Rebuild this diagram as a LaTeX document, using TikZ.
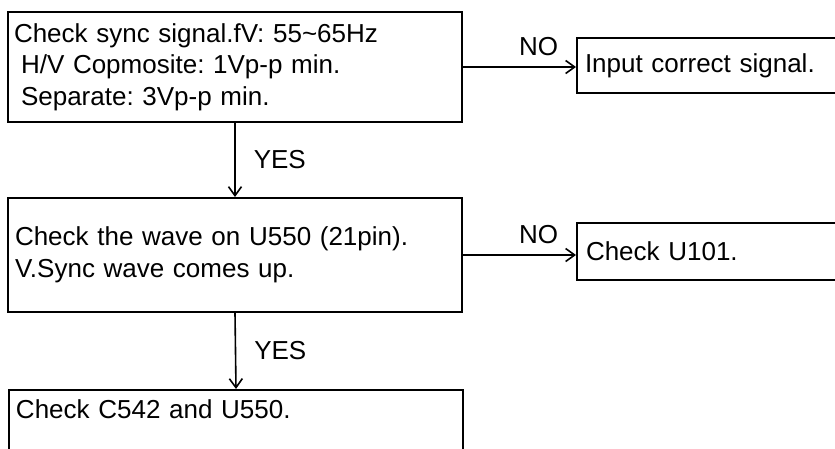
\documentclass[tikz,border=0pt]{standalone}
\usepackage{fontspec}
\setmainfont{Liberation Sans}
\frenchspacing
\usetikzlibrary{arrows.meta,positioning}

\begin{document}
\begin{tikzpicture}[x=1pt,y=-1pt,
  box/.style={draw,line width=2pt,rectangle,align=left,inner xsep=6pt,inner ysep=0pt,font=\fontsize{26}{31.5}\selectfont},
  flow/.style={-{Straight Barb[length=9pt,width=13pt,line width=1.6pt]},line width=1.6pt},
  lbl/.style={font=\fontsize{26}{31}\selectfont,inner sep=0pt}]
\clip (0,0) rectangle (835,448);
% left column
\node[box,text width=442pt,minimum height=110pt] (sync) at (235,67) {Check sync signal.fV: 55\textasciitilde65Hz\\\hspace*{7pt}H/V Copmosite: 1Vp-p min.\\\hspace*{7pt}Separate: 3Vp-p min.};
\node[box,text width=440pt,minimum height=114pt,inner xsep=7pt] (wave) at (235,255) {Check the wave on U550 (21pin).\\V.Sync wave comes up.};
\node[box,text width=440pt,inner xsep=7pt,inner ysep=9pt,text height=19pt,text depth=50pt,anchor=north west] (cap) at (8,389) {Check C542 and U550.};
% right column
\node[box,text width=267pt,inner xsep=8pt,minimum height=55pt] (input) at (718.5,65.5) {Input correct signal.};
\node[box,text width=265pt,inner xsep=9pt,minimum height=57pt] (ic) at (718.5,251.5) {Check U101.};
% connectors
\draw[flow] (sync.south) -- node[lbl,right=18pt] {YES} (wave.north);
\draw[flow] (wave.south) -- node[lbl,right=18pt] {YES} (cap.north);
\draw[flow] (sync.east) -- node[lbl,pos=0.67,above=10pt] {NO} (sync.east -| input.west);
\draw[flow] (wave.east) -- node[lbl,pos=0.67,above=10pt] {NO} (wave.east -| ic.west);
\end{tikzpicture}
\end{document}
